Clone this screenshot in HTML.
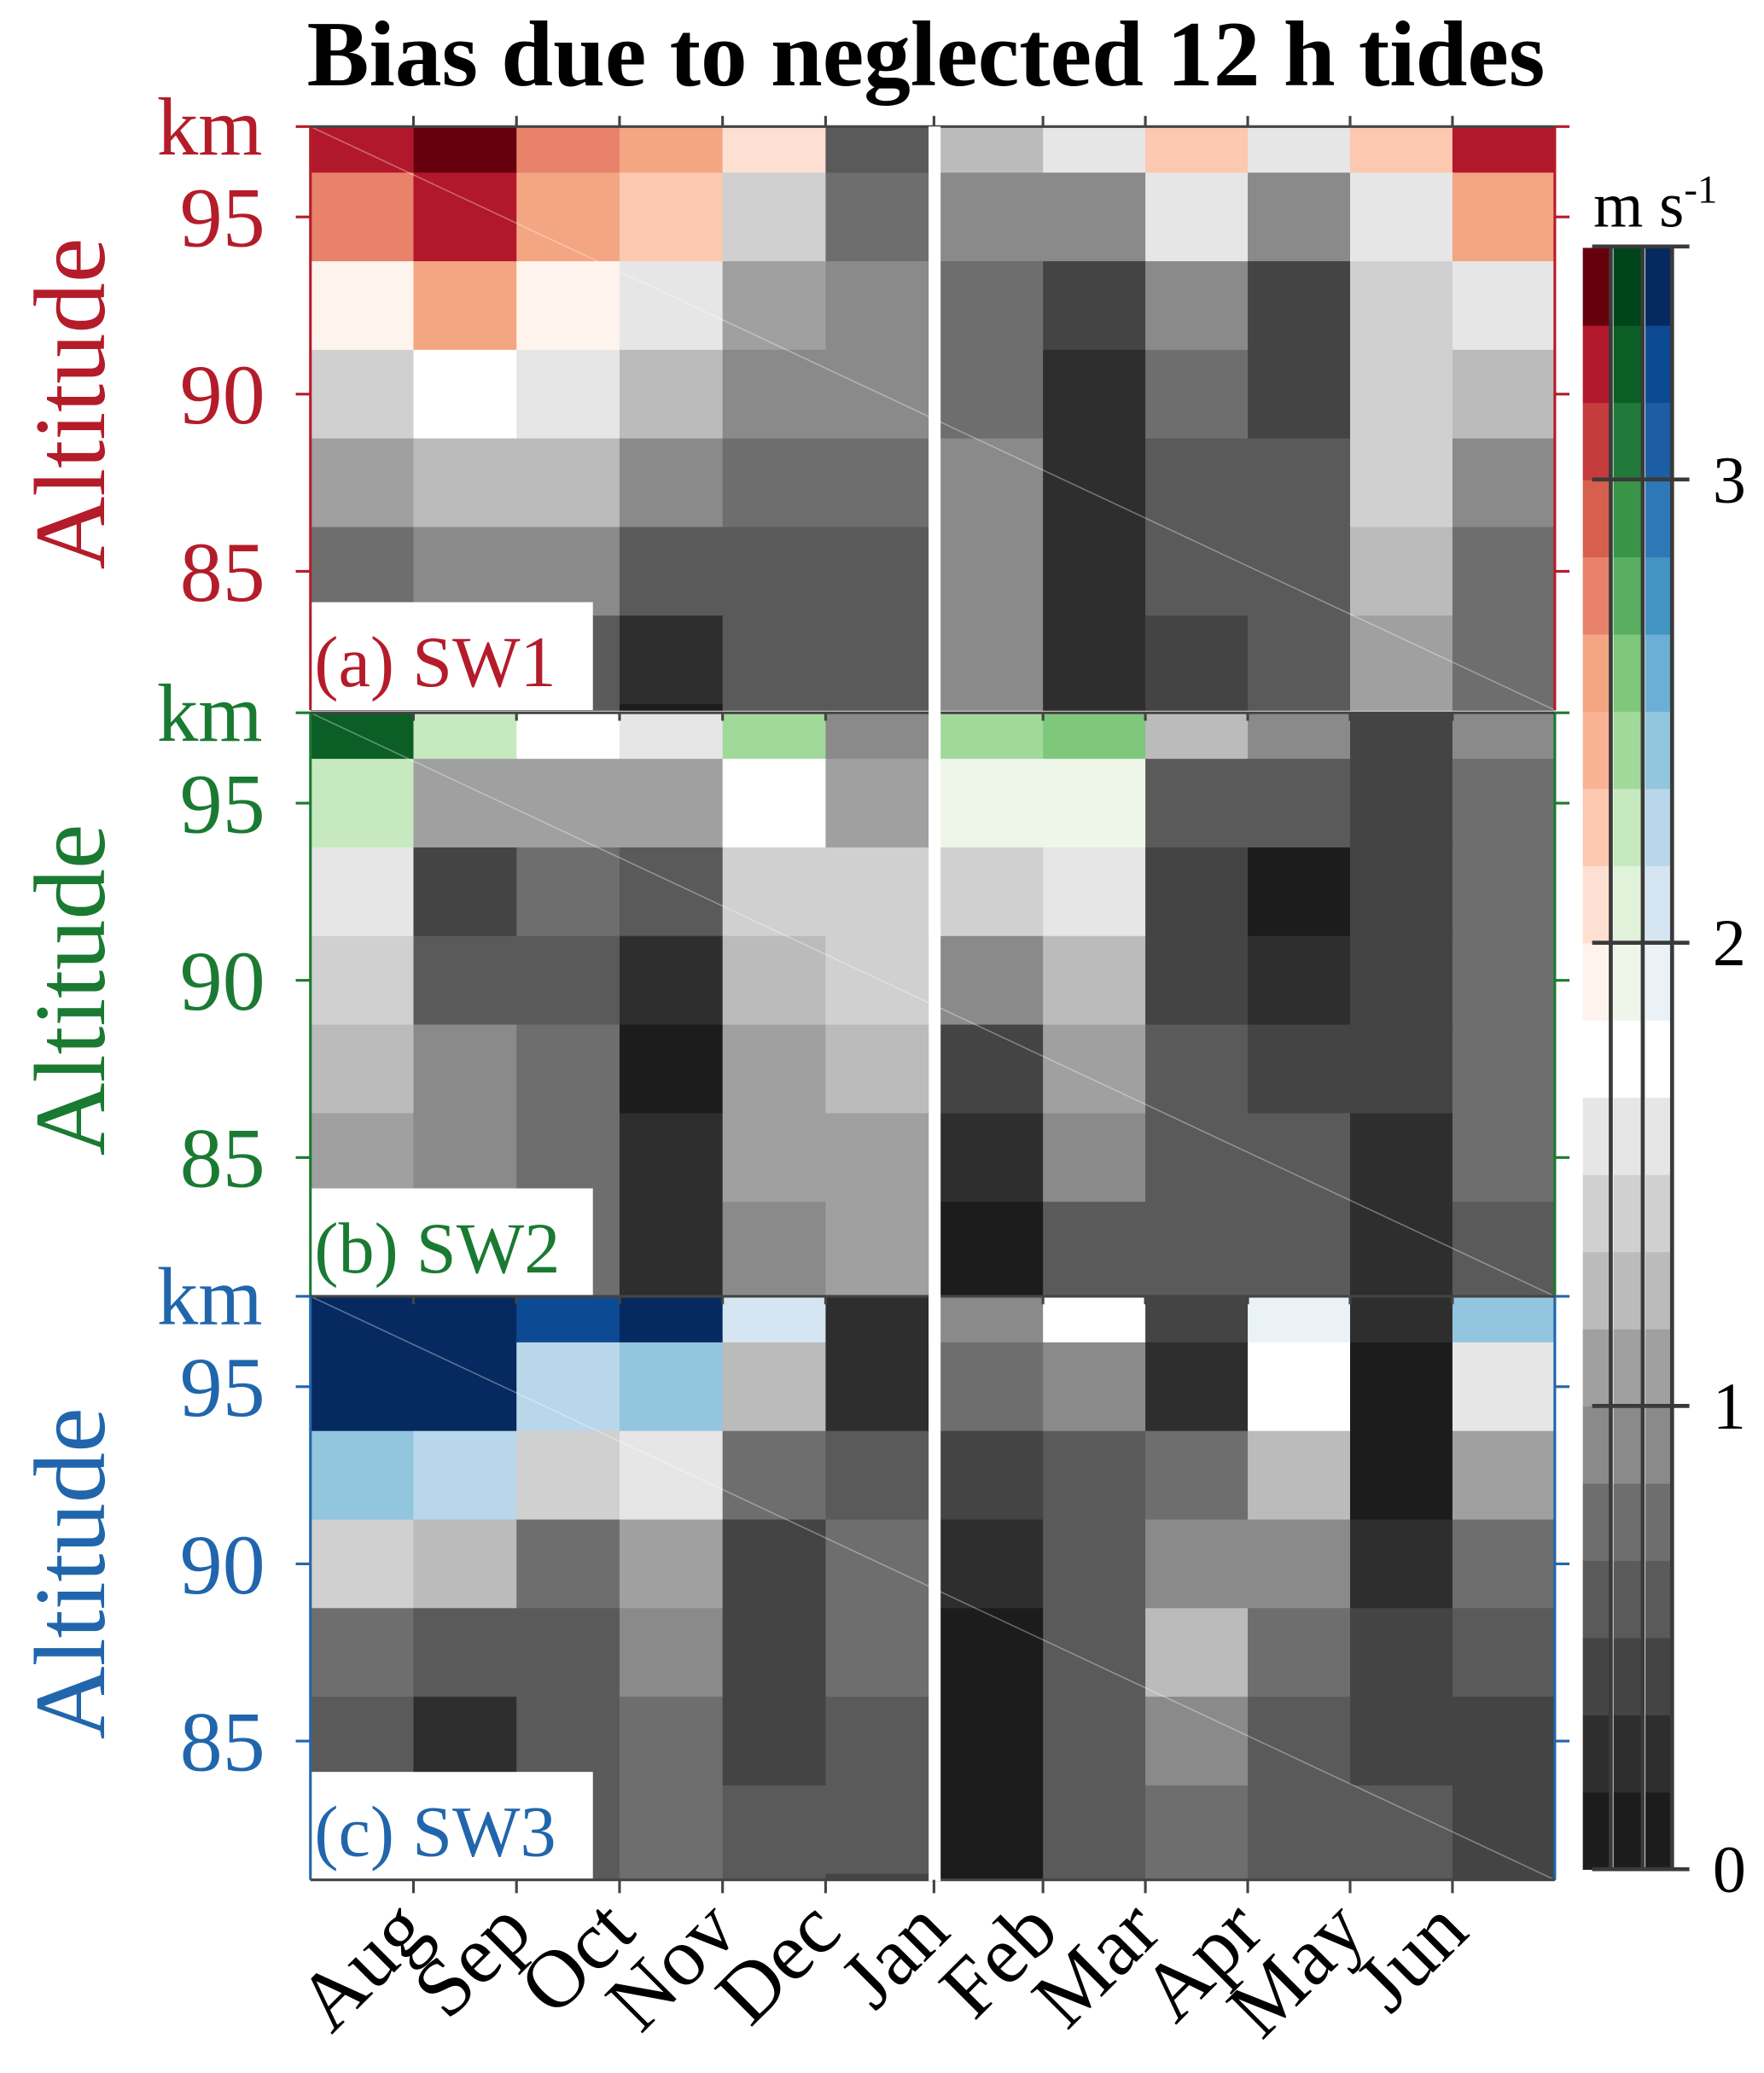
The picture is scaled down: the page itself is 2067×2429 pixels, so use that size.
<!DOCTYPE html>
<html><head><meta charset="utf-8"><style>
html,body{margin:0;padding:0;background:#fff}
svg{display:block}
text{font-family:"Liberation Serif",serif}
</style></head><body>
<svg id="chart" xmlns="http://www.w3.org/2000/svg" width="2067" height="2429" viewBox="0 0 1324 1556" preserveAspectRatio="none">
<g id="cells"></g>
<g id="axes"></g>
<g id="cbar"></g>
</svg>
<script>
// ---- data ----
const months = ["Aug","Sep","Oct","Nov","Dec","Jan","Feb","Mar","Apr","May","Jun"];
const altitudes = [97.5,95,92.5,90,87.5,85,82.5,80];
const altTicks = [95,90,85];
const cbarTicks = [0,1,2,3];
const panelNames = ["(a) SW1","(b) SW2","(c) SW3"];
// values in m/s (level index k -> (k+0.5)/6)
const sw1Levels = [
[19,20,16,15,12,3, 7,9,13,9,13,19],
[16,19,15,13,8,4, 5,5,9,5,9,15],
[11,15,11,9,6,5, 4,2,5,2,8,9],
[8,10,9,7,5,5, 4,1,4,2,8,7],
[6,7,7,5,4,4, 5,1,3,3,8,5],
[4,5,5,3,3,3, 5,1,3,3,7,4],
[3,3,3,1,3,3, 5,1,2,3,6,4],
[3,3,3,0,3,3, 5,1,2,3,6,4]];
const sw2Levels = [
[19,13,10,9,14,5, 14,15,7,5,2,5],
[13,6,6,6,10,6, 11,11,3,3,2,4],
[9,2,4,3,8,8, 8,9,2,0,2,4],
[8,3,3,1,7,8, 5,7,2,1,2,4],
[7,5,4,0,6,7, 2,6,3,2,2,4],
[6,5,4,1,6,6, 1,5,3,3,1,4],
[6,5,4,1,5,6, 0,3,3,3,1,3],
[6,5,4,1,5,6, 0,3,3,3,1,3]];
const sw3Levels = [
[20,20,19,20,12,1, 5,10,2,11,1,14],
[20,20,13,14,7,1, 4,5,1,10,0,9],
[14,13,8,9,4,3, 2,3,4,7,0,6],
[8,7,4,6,2,4, 1,3,5,5,1,4],
[4,3,3,5,2,4, 0,3,7,4,2,3],
[3,1,3,4,2,3, 0,3,5,3,2,2],
[3,3,3,4,3,3, 0,3,4,3,3,2],
[3,3,3,4,3,2, 0,3,4,3,3,2]];
const allLevels=[sw1Levels,sw2Levels,sw3Levels];

const grays=["#1c1c1c","#2e2e2e","#444444","#5a5a5a","#6e6e6e","#8a8a8a","#a0a0a0","#bbbbbb","#d0d0d0","#e6e6e6","#ffffff"];
const reds=["#fff3ed","#fee0d2","#fcc8b0","#f9b294","#f4a582","#e8826a","#d6604d","#c43c3c","#b2182b","#67000d"];
const greens=["#eef6ea","#e0f2da","#c7e9c0","#a1d99b","#7fc77b","#5aae61","#3a9448","#217a3a","#0b5e26","#00441b"];
const blues=["#eaf2f8","#d5e6f2","#b9d7ea","#92c5de","#6baed6","#4393c3","#2f78b8","#1c5da4","#0d4a94","#062a60"];
const palettes=[reds,greens,blues];
const axisCols=["#b41c2a","#1a7a32","#2166ac"];

const NS="http://www.w3.org/2000/svg";
function mk(tag,attrs,parent){const e=document.createElementNS(NS,tag);for(const k in attrs)e.setAttribute(k,attrs[k]);parent.appendChild(e);return e;}
function colorFor(v,p){const k=Math.max(0,Math.min(20,Math.floor(v*6)));return k<=10?grays[k]:palettes[p][k-11];}
function xEdge(t){return t<=6?233+t*(464/6):706+(t-6)*(461/6);}
const panelTop=[95,535,973];
const PH=438;
const kmTop=97.55, pxPerKm=26.6;
function yKm(p,km){return Math.max(panelTop[p],Math.min(panelTop[p]+PH,panelTop[p]+(kmTop-km)*pxPerKm));}
const cb={x:1188,bottom:1403,unit:347.7};
function yCb(v){return cb.bottom-v*cb.unit;}

const cells=document.getElementById('cells');
const axes=document.getElementById('axes');
for(let p=0;p<3;p++){
  const g=mk('g',{},cells);
  
  
  allLevels[p].forEach((row,r)=>{
    row.forEach((lv,c)=>{
      const v=(lv+0.5)/6;
      const y0=yKm(p,altitudes[r]+1.25), y1=yKm(p,altitudes[r]-1.25);
      if(y1<=y0)return;
      const x0=xEdge(c), x1=(c==5?697:xEdge(c+1));
      const rc=mk('rect',{x:x0,y:y0,width:x1-x0+0.5,height:y1-y0+0.5,fill:colorFor(v,p)},g);
      
      
    });
  });
  const top=panelTop[p], col=axisCols[p];
  mk('line',{x1:233,y1:top,x2:1167,y2:top+PH,stroke:"#ffffff","stroke-opacity":0.35,"stroke-width":1},g);
  mk('line',{x1:233,y1:top,x2:233,y2:top+PH,stroke:col,"stroke-width":2},axes);
  mk('line',{x1:1167,y1:top,x2:1167,y2:top+PH,stroke:col,"stroke-width":2},axes);
  mk('line',{x1:233,y1:top,x2:1167,y2:top,stroke:"#444","stroke-width":2},axes);
  for(let t=1;t<12;t++){const x=t==6?701:xEdge(t);mk('line',{x1:x,y1:top,x2:x,y2:top+(p==0?-8:6),stroke:"#444","stroke-width":2},axes);}
  const km=mk('text',{x:197,y:top+21,"font-size":62,fill:col,"text-anchor":"end"},axes);km.textContent="km";
  
  mk('line',{x1:222,y1:top,x2:233,y2:top,stroke:col,"stroke-width":2},axes);
  altTicks.forEach(a=>{
    const y=yKm(p,a);
    mk('line',{x1:222,y1:y,x2:233,y2:y,stroke:col,"stroke-width":2},axes);
    mk('line',{x1:1167,y1:y,x2:1178,y2:y,stroke:col,"stroke-width":2},axes);
    const tx=mk('text',{x:199,y:y+22,"font-size":64,fill:col,"text-anchor":"end"},axes);tx.textContent=a;
    
  });
  mk('line',{x1:1167,y1:top,x2:1178,y2:top,stroke:col,"stroke-width":2},axes);
  const at=mk('text',{x:0,y:0,"font-size":76,fill:col,"text-anchor":"middle",transform:`translate(78,${top+208}) rotate(-90)`},axes);at.textContent="Altitude";
  
  const lb=mk('rect',{x:234,y:top+357,width:211,height:PH-357,fill:"#fff"},axes);
  
  const lt=mk('text',{x:236,y:top+420,"font-size":54,fill:col},axes);lt.textContent=panelNames[p];
  
}
mk('line',{x1:233,y1:1411,x2:1167,y2:1411,stroke:"#444","stroke-width":2},axes);
mk('rect',{x:697,y:95,width:9,height:1317,fill:"#fff"},axes);
months.forEach((m,i)=>{
  const t=i+1;const x=t==6?701:xEdge(t);
  mk('line',{x1:x,y1:1411,x2:x,y2:1421,stroke:"#444","stroke-width":2},axes);
  const tx=mk('text',{x:0,y:0,"font-size":62,fill:"#000","text-anchor":"end",transform:`translate(${x+14},${1452}) rotate(-45)`},axes);tx.textContent=m;
  
});
const title=mk('text',{x:695,y:64,"font-size":70,"font-weight":"bold",fill:"#000","text-anchor":"middle"},axes);
title.textContent="Bias due to neglected 12 h tides";


const cbg=document.getElementById('cbar');

const stripes=[[1188,22],[1211,22],[1235,20]];
for(let k=0;k<21;k++){
  stripes.forEach((s,p)=>{
    const v=(k+0.5)/6;
    mk('rect',{x:s[0],y:yCb((k+1)/6),width:s[1],height:cb.unit/6+0.5,fill:colorFor(v,p)},cbg);
  });
}
[1209,1233,1255].forEach(x=>mk('line',{x1:x,y1:185,x2:x,y2:1403,stroke:"#3a3a3a","stroke-width":3},cbg));
mk('line',{x1:1195,y1:185,x2:1268,y2:185,stroke:"#3a3a3a","stroke-width":3},cbg);
cbarTicks.forEach(v=>{
  const y=yCb(v);
  mk('line',{x1:1195,y1:y,x2:1268,y2:y,stroke:"#3a3a3a","stroke-width":3},cbg);
  const tx=mk('text',{x:1298,y:y+17,"font-size":50,fill:"#000","text-anchor":"middle"},cbg);tx.textContent=v;
  
});
const un=mk('text',{x:1196,y:170,"font-size":48,fill:"#000"},cbg);
un.innerHTML='m s<tspan dy="-18" font-size="30">-1</tspan>';

</script>
</body></html>
